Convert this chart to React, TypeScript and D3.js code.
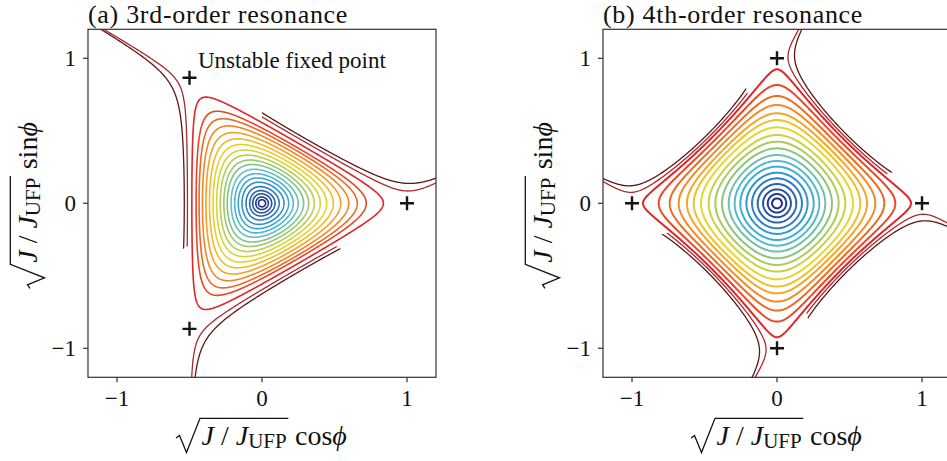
import React, { useMemo } from "react";
import * as d3 from "d3";

// ---------- data ----------
const DOMAIN: [number, number] = [-1.2, 1.2];
const TICKS = [-1, 0, 1];
const TICK_LABELS = ["\u22121", "0", "1"];

// panel (a): 3rd-order resonance
const A_TITLE = "(a) 3rd-order resonance";
const A_NOTE = "Unstable fixed point";
// crossing points of the closed contours on the positive x axis
const A_INNER_X0 = [0.025, 0.044, 0.067, 0.09, 0.119, 0.152, 0.184, 0.216, 0.25, 0.287, 0.322, 0.361, 0.402, 0.446, 0.492, 0.543, 0.598, 0.657, 0.719, 0.837];
// levels of the open trajectories outside the separatrix
const A_OUTER_LEVELS = [0.355, 0.39];
const A_UFP: [number, number][] = [[1, 0], [-0.5, 0.866], [-0.5, -0.866]];
// angular sectors (deg) in which the outside trajectories are drawn
const A_KEEP: [number, number][] = [[0, 90], [120, 210], [240, 330]];

// panel (b): 4th-order resonance
const B_TITLE = "(b) 4th-order resonance";
// crossing points of the closed contours on the positive y axis
const B_INNER_Y0 = [0.034, 0.064, 0.096, 0.133, 0.172, 0.211, 0.253, 0.292, 0.333, 0.379, 0.425, 0.471, 0.524, 0.574, 0.621, 0.678, 0.74, 0.816, 0.924];
const B_OUTER_LEVELS = [0.523, 0.559];
const B_UFP: [number, number][] = [[1, 0], [0, 1], [-1, 0], [0, -1]];
const B_KEEP: [number, number][] = [[15, 90], [105, 180], [195, 270], [285, 360]];

// normalised resonance Hamiltonians
const ham3 = (x: number, y: number) => x * x + y * y - (2 / 3) * (x * x * x - 3 * x * y * y);
const ham4 = (x: number, y: number) => x * x + y * y - 0.5 * (x ** 4 - 6 * x * x * y * y + y ** 4);

// ---------- styles ----------
const PALETTE = ["#1d2c80", "#22469a", "#2866b2", "#2e8aca", "#3caed8", "#62c0c0", "#8cc47c", "#b8d04a", "#e4d82a", "#f5b426", "#f38a22", "#ec5a22", "#e0242a"];
const OUTER_COLORS = ["#aa282e", "#5e1616"];
const SPINE = "#333333";
const FONT = "'Liberation Serif', 'Times New Roman', Times, serif";

const PLOT = 348;
const TOP = 29.3;

type Pt = [number, number];

function contourRings(ham: (x: number, y: number) => number, level: number): Pt[][] {
  const G0 = -1.35;
  const STEP = 0.005;
  const N = Math.round((2 * -G0) / STEP) + 1;
  const vals = new Float64Array(N * N);
  for (let j = 0; j < N; j++) {
    const y = G0 + j * STEP;
    for (let i = 0; i < N; i++) vals[j * N + i] = ham(G0 + i * STEP, y);
  }
  const mp = d3.contours().size([N, N]).contour(vals as any, level);
  const rings: Pt[][] = [];
  for (const poly of mp.coordinates) {
    for (const ring of poly) {
      rings.push(ring.map(([gx, gy]) => [G0 + (gx - 0.5) * STEP, G0 + (gy - 0.5) * STEP] as Pt));
    }
  }
  return rings;
}

interface PanelProps {
  id: string;
  ox: number;
  title: string;
  ham: (x: number, y: number) => number;
  innerLevels: number[];
  innerWidth: number;
  outerLevels: number[];
  ufp: Pt[];
  keep: [number, number][];
  trigY: string;
  labelBaseX: number;
  note?: string;
}

function AxisLabel({ transform, trig }: { transform: string; trig: string }) {
  return (
    <g transform={transform} fontFamily={FONT} fill="#111">
      <path d="M-86,-7 L-82.5,-9.5 L-75.5,7.5 L-62,-26.7 H26.3" fill="none" stroke="#111" strokeWidth={1.3} />
      <text x={-60.5} y={0} fontSize={28}>
        <tspan fontStyle="italic">J</tspan>
        <tspan> / </tspan>
        <tspan fontStyle="italic">J</tspan>
        <tspan fontSize={21} dy={3}>UFP</tspan>
      </text>
      <text x={33} y={0} fontSize={28}>
        {trig}
        <tspan fontStyle="italic">{"\u03D5"}</tspan>
      </text>
    </g>
  );
}

function Panel(p: PanelProps) {
  const xs = d3.scaleLinear().domain(DOMAIN).range([p.ox, p.ox + PLOT]);
  const ys = d3.scaleLinear().domain(DOMAIN).range([TOP + PLOT, TOP]);
  const line = d3
    .line<Pt>()
    .x((d) => xs(d[0]))
    .y((d) => ys(d[1]))
    .curve(d3.curveLinear);

  const color = d3.piecewise(d3.interpolateRgb, PALETTE);

  const inner = useMemo(
    () =>
      p.innerLevels.map((lv) =>
        contourRings(p.ham, lv).filter((r) => r.every(([x, y]) => x * x + y * y < 1.2))
      ),
    [p.ham, p.innerLevels]
  );
  const outer = useMemo(() => p.outerLevels.map((lv) => contourRings(p.ham, lv)), [p.ham, p.outerLevels]);

  const wedgePath = p.keep
    .map(([a, b]) => {
      const pts: Pt[] = [[0, 0]];
      for (let t = a; t <= b + 1e-9; t += 5) {
        const r = (t * Math.PI) / 180;
        pts.push([4 * Math.cos(r), 4 * Math.sin(r)]);
      }
      return (line(pts) || "") + "Z";
    })
    .join(" ");

  const n = p.innerLevels.length;
  const x0 = p.ox;
  const y0 = TOP;
  const y1 = TOP + PLOT;
  const cx = xs(0);
  const PS = 7;

  return (
    <g>
      <defs>
        <clipPath id={`rect-${p.id}`}>
          <rect x={x0} y={y0} width={PLOT} height={PLOT} />
        </clipPath>
        <clipPath id={`wedge-${p.id}`}>
          <path d={wedgePath} />
        </clipPath>
      </defs>
      <g clipPath={`url(#rect-${p.id})`}>
        <g clipPath={`url(#wedge-${p.id})`}>
          {outer.map((rings, k) => (
            <path
              key={`o${k}`}
              d={rings.map((r) => line(r)).join(" ")}
              fill="none"
              stroke={OUTER_COLORS[k]}
              strokeWidth={1.3}
            />
          ))}
        </g>
        {inner.map((rings, k) => (
          <path
            key={`i${k}`}
            d={rings.map((r) => line(r)).join(" ")}
            fill="none"
            stroke={color(n > 1 ? k / (n - 1) : 0)}
            strokeWidth={p.innerWidth}
          />
        ))}
      </g>
      {p.ufp.map(([ux, uy], k) => (
        <path
          key={`u${k}`}
          d={`M${xs(ux) - PS},${ys(uy)} H${xs(ux) + PS} M${xs(ux)},${ys(uy) - PS} V${ys(uy) + PS}`}
          stroke="#151515"
          strokeWidth={2.4}
        />
      ))}
      <rect x={x0} y={y0} width={PLOT} height={PLOT} fill="none" stroke={SPINE} strokeWidth={1.2} />
      {TICKS.map((t, k) => (
        <g key={`xt${k}`}>
          <line x1={xs(t)} x2={xs(t)} y1={y1} y2={y1 + 5} stroke={SPINE} strokeWidth={1.2} />
          <text x={xs(t)} y={y1 + 28.5} textAnchor="middle" fontFamily={FONT} fontSize={23} fill="#111">
            {TICK_LABELS[k]}
          </text>
        </g>
      ))}
      {TICKS.map((t, k) => (
        <g key={`yt${k}`}>
          <line x1={x0 - 5} x2={x0} y1={ys(t)} y2={ys(t)} stroke={SPINE} strokeWidth={1.2} />
          <text x={x0 - 12} y={ys(t) + 8} textAnchor="end" fontFamily={FONT} fontSize={23} fill="#111">
            {TICK_LABELS[k]}
          </text>
        </g>
      ))}
      <text x={x0} y={23} fontFamily={FONT} fontSize={26} letterSpacing={0.7} fill="#111">
        {p.title}
      </text>
      {p.note && (
        <text x={198} y={68} fontFamily={FONT} fontSize={23} fill="#111">
          {p.note}
        </text>
      )}
      <AxisLabel transform={`translate(${cx},445)`} trig="cos" />
      <AxisLabel transform={`translate(${p.labelBaseX},${ys(0) - 1}) rotate(-90)`} trig={p.trigY} />
    </g>
  );
}

const A_LEVELS = A_INNER_X0.map((x) => ham3(x, 0));
const B_LEVELS = B_INNER_Y0.map((y) => ham4(0, y));

export default function App() {
  return (
    <svg
      width={947}
      height={461}
      viewBox="0 0 947 461"
      style={{ position: "absolute", left: 0, top: 0, display: "block", background: "#fff" }}
    >
      <rect x={0} y={0} width={947} height={461} fill="#fff" />
      <Panel
        id="a"
        ox={88}
        title={A_TITLE}
        ham={ham3}
        innerLevels={A_LEVELS}
        innerWidth={1.6}
        outerLevels={A_OUTER_LEVELS}
        ufp={A_UFP}
        keep={A_KEEP}
        trigY="sin"
        labelBaseX={37}
        note={A_NOTE}
      />
      <Panel
        id="b"
        ox={603}
        title={B_TITLE}
        ham={ham4}
        innerLevels={B_LEVELS}
        innerWidth={2}
        outerLevels={B_OUTER_LEVELS}
        ufp={B_UFP}
        keep={B_KEEP}
        trigY="sin"
        labelBaseX={552}
      />
    </svg>
  );
}
